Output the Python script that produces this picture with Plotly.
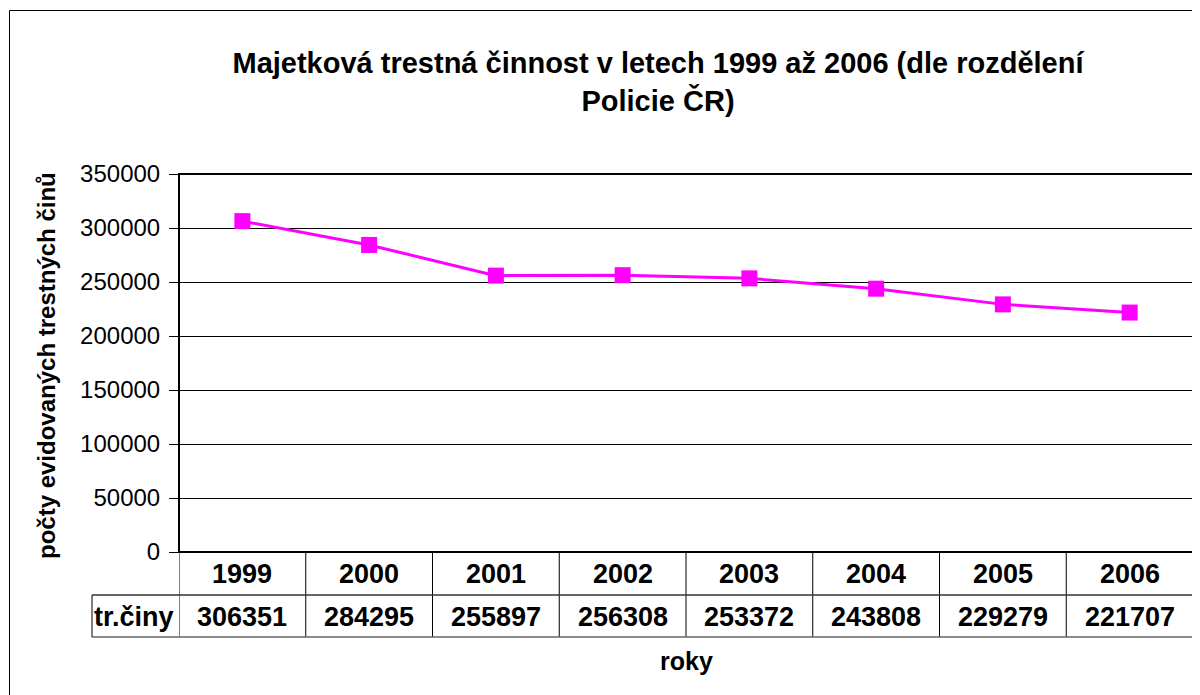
import plotly.graph_objects as go

YEARS = ['1999', '2000', '2001', '2002', '2003', '2004', '2005', '2006']
CRIMES = [306351, 284295, 255897, 256308, 253372, 243808, 229279, 221707]
SERIES_NAME = 'tr.činy'

TITLE = 'Majetková trestná činnost v letech 1999 až 2006 (dle rozdělení<br>Policie ČR)'
Y_TITLE = 'počty evidovaných trestných činů'
X_TITLE = 'roky'

FONT = 'Liberation Sans, Arial, sans-serif'
OFF = 8  # default body margin of the page
W, H = 1200 - OFF, 695 - OFF
L, R, T, B = 179 - OFF, 7, 174 - OFF, 695 - 552
PW, PH = W - L - R, H - T - B


def py(page_y):
    # page pixel y -> paper y
    return (H - B - (page_y - OFF)) / PH


def px(page_x):
    return (page_x - OFF - L) / PW


xs = list(range(len(YEARS)))

fig = go.Figure()
fig.add_trace(go.Scatter(
    x=xs, y=CRIMES, mode='lines+markers', name=SERIES_NAME,
    line=dict(color='#FF00FF', width=3),
    marker=dict(symbol='square', size=16, color='#FF00FF'),
    showlegend=False, cliponaxis=False,
))

shapes = []
row1_bot, row2_bot = py(595), py(637)
# plot frame
shapes.append(dict(type='rect', xref='paper', yref='paper', x0=0, x1=1, y0=0, y1=1,
                   line=dict(color='black', width=2)))
# outer chart frame
shapes.append(dict(type='rect', xref='paper', yref='paper', x0=px(9.5), x1=px(1210),
                   y0=py(710), y1=py(10.5), line=dict(color='black', width=1)))
# data table
for i in range(len(YEARS) + 1):
    shapes.append(dict(type='line', xref='x', yref='paper', x0=i - 0.5, x1=i - 0.5,
                       y0=0, y1=row2_bot, line=dict(color='black', width=1)))
shapes.append(dict(type='line', xref='paper', yref='paper', x0=px(92), x1=1,
                   y0=row1_bot, y1=row1_bot, line=dict(color='#333', width=1.5)))
shapes.append(dict(type='line', xref='paper', yref='paper', x0=px(92), x1=1,
                   y0=row2_bot, y1=row2_bot, line=dict(color='#666', width=1.5)))
shapes.append(dict(type='line', xref='paper', yref='paper', x0=px(92), x1=px(92),
                   y0=row1_bot, y1=row2_bot, line=dict(color='black', width=1)))

annotations = []
tfont = dict(family=FONT, size=27, color='black')
for i, (yr, v) in enumerate(zip(YEARS, CRIMES)):
    annotations.append(dict(x=i, y=py(574), xref='x', yref='paper', text=f'<b>{yr}</b>',
                            xanchor='center', yanchor='middle', showarrow=False, font=tfont))
    annotations.append(dict(x=i, y=py(617), xref='x', yref='paper', text=f'<b>{v}</b>',
                            xanchor='center', yanchor='middle', showarrow=False, font=tfont))
annotations.append(dict(x=px(92), y=py(617), xref='paper', yref='paper',
                        xanchor='left', yanchor='middle',
                        text=f'<b>{SERIES_NAME}</b>', showarrow=False, font=tfont))
annotations.append(dict(x=0.5, y=py(661), xref='paper', yref='paper', text=f'<b>{X_TITLE}</b>',
                        xanchor='center', yanchor='middle',
                        showarrow=False, font=dict(family=FONT, size=25, color='black')))
annotations.append(dict(x=px(46), y=py(366), xref='paper', yref='paper', text=f'<b>{Y_TITLE}</b>',
                        xanchor='center', yanchor='middle',
                        textangle=-90, showarrow=False, font=dict(family=FONT, size=24, color='black')))

fig.update_layout(
    width=W, height=H,
    margin=dict(l=L, r=R, t=T, b=B),
    paper_bgcolor='white', plot_bgcolor='white',
    title=dict(text=f'<b>{TITLE}</b>', x=(658 - OFF) / W, xanchor='center',
               y=1 - (73 - OFF) / H, yanchor='middle',
               font=dict(family=FONT, size=29, color='black')),
    xaxis=dict(range=[-0.5, len(YEARS) - 0.5], showticklabels=False, showgrid=False,
               zeroline=False, ticks=''),
    yaxis=dict(range=[0, 350000], dtick=50000, tickformat='d', showgrid=True,
               gridcolor='black', gridwidth=1,
               zeroline=False, ticks='outside', ticklen=9, tickcolor='black',
               tickfont=dict(family=FONT, size=24, color='black'), ticklabelstandoff=4),
    shapes=shapes, annotations=annotations,
)

fig.write_html('out.html')
